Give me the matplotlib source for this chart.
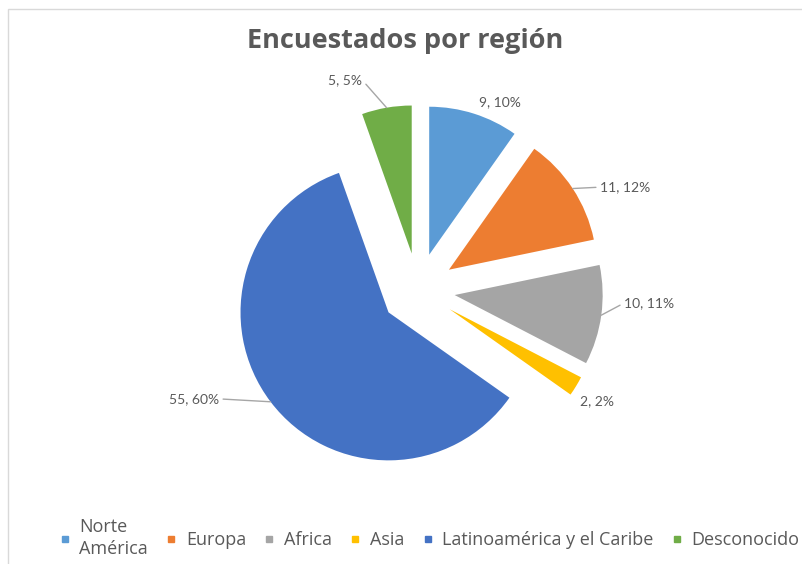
import numpy as np
import matplotlib.pyplot as plt
from matplotlib.lines import Line2D
from matplotlib.patches import Rectangle

# Data
regions = ['Norte\nAmérica', 'Europa', 'Africa', 'Asia', 'Latinoamérica y el Caribe', 'Desconocido']
counts = [9, 11, 10, 2, 55, 5]
colors = ['#5B9BD5', '#ED7D31', '#A5A5A5', '#FFC000', '#4472C4', '#70AD47']

# Label layout (radius from pie centre, angle shift from slice bisector, alignment, leader line)
label_r = [1.386, 1.413, 1.395, 1.423, 1.533, 1.468]
label_shift = [6.0, 3.8, -4.2, 0.5, 8.5, -5.1]
label_ha = ['center', 'left', 'left', 'center', 'right', 'right']
leader = [False, True, True, False, True, True]

plt.rcParams['font.family'] = ['Lato', 'DejaVu Sans']
grey = '#595959'

fig = plt.figure(figsize=(8.03, 5.64), dpi=100)
ax = fig.add_axes([0, 0, 1, 1])

explode = [0.25] * len(counts)
wedges, _ = ax.pie(counts, explode=explode, colors=colors, startangle=90,
                   counterclock=False, radius=1.0,
                   wedgeprops=dict(linewidth=0))

total = sum(counts)
cum = np.cumsum([0] + counts)
for i, w in enumerate(wedges):
    mid = (cum[i] + cum[i + 1]) / 2 / total * 360  # clockwise from top
    a = np.radians(mid + label_shift[i])
    tx, ty = label_r[i] * np.sin(a), label_r[i] * np.cos(a)
    pct = round(counts[i] / total * 100)
    txt = f'{counts[i]}, {pct}%'
    if leader[i]:
        m = np.radians(mid)
        ex = explode[i]
        px, py = (1 + ex) * np.sin(m), (1 + ex) * np.cos(m)
        rel = (0, 0.5) if label_ha[i] == 'left' else (1, 0.5)
        ax.annotate(txt, xy=(px, py), xytext=(tx, ty), ha=label_ha[i], va='center',
                    fontsize=10, color=grey,
                    arrowprops=dict(arrowstyle='-', color='#A6A6A6', lw=1,
                                    shrinkA=1, shrinkB=0, relpos=rel))
    else:
        ax.text(tx, ty, txt, ha=label_ha[i], va='center', fontsize=10, color=grey)

ax.set_xlim(-418 / 148, (803 - 418) / 148)
ax.set_ylim(-(564 - 290) / 148, 290 / 148)
ax.set_aspect('equal')
ax.axis('off')

# chart border (cut off at right and bottom)
fig.patches.append(Rectangle((8 / 803, -0.1), 1.2, 1 - 9 / 564 + 0.1, transform=fig.transFigure,
                             fill=False, edgecolor='#D9D9D9', lw=1))

fig.text(0.504, 1 - 41 / 564, 'Encuestados por región', ha='center', va='center',
         fontsize=19.5, fontweight='bold', color=grey, family='Open Sans')

handles = [Line2D([], [], marker='s', linestyle='', markersize=4, color=c) for c in colors]
leg = fig.legend(handles, regions, ncol=6, loc='center left',
                 bbox_to_anchor=(52 / 803, 1 - 538 / 564), frameon=False,
                 prop={'family': 'Open Sans', 'size': 13},
                 handlelength=0.6, handletextpad=0.5,
                 columnspacing=1.0, borderaxespad=0, labelspacing=0)
for t in leg.get_texts():
    t.set_color(grey)
    t.set_linespacing(1.35)

fig.savefig('out.png', dpi=100)
